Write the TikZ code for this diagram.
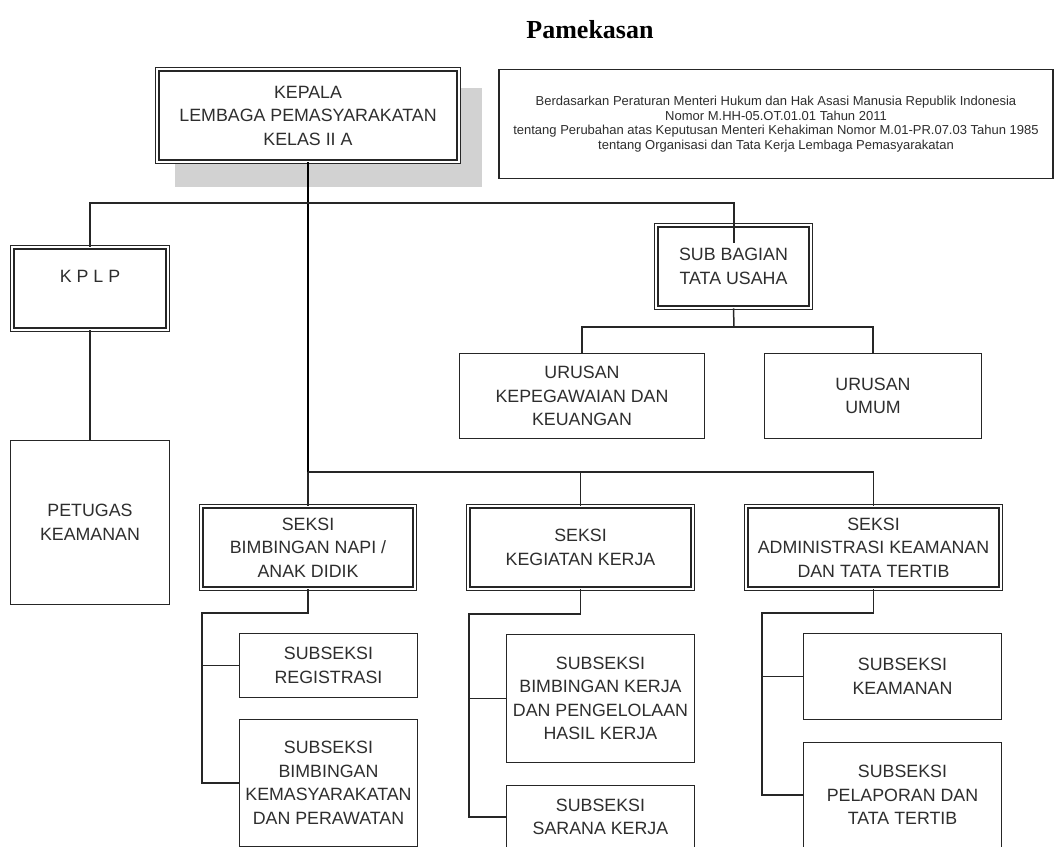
\documentclass[tikz,border=0pt]{standalone}
\usepackage{fontspec}
\setmainfont{Liberation Sans}
\newfontfamily\titlefont{Liberation Serif}
\definecolor{linegray}{HTML}{262626}
\definecolor{textgray}{HTML}{2E2E2E}
\definecolor{shadowgray}{HTML}{D2D2D2}
\begin{document}
\begin{tikzpicture}[x=1pt,y=-1pt,
  box/.style={draw=linegray, line width=1.2pt, fill=white, align=center, text=textgray,
    font=\fontsize{17.8}{23.5}\selectfont, inner sep=0pt},
  dbox/.style={box, double=white, double distance=2.2pt},
  line/.style={draw=linegray, line width=1.5pt},
  trunk/.style={draw=black, line width=1.9pt}]

\useasboundingbox (0,0) rectangle (1057,846);
  \node[font={\titlefont\fontsize{26}{30}\selectfont\bfseries}] (t) at (590,30) {Pamekasan};
  \fill[shadowgray] (175,88) rectangle (482,187);
  \node[dbox, minimum width=301.4, minimum height=92.4] (n1) at (308,115.5)
    {KEPALA\\LEMBAGA PEMASYARAKATAN\\KELAS II A};
  \node[box, font=\fontsize{13}{14.7}\selectfont, minimum width=554, minimum height=109] (d) at (776,124)
    {Berdasarkan Peraturan Menteri Hukum dan Hak Asasi Manusia Republik Indonesia\\
     Nomor M.HH-05.OT.01.01 Tahun 2011\\
     tentang Perubahan atas Keputusan Menteri Kehakiman Nomor M.01-PR.07.03 Tahun 1985\\
     tentang Organisasi dan Tata Kerja Lembaga Pemasyarakatan};
  \node[dbox, minimum width=155.4, minimum height=82.4, text depth=25pt] (n21) at (90,288.5) {K P L P};
  \node[dbox, minimum width=154.4, minimum height=82.4] (n22) at (733.5,266.5) {SUB BAGIAN\\TATA USAHA};
  \node[box, minimum width=159, minimum height=164] (n31) at (90,522.5) {PETUGAS\\KEAMANAN};
  \node[box, minimum width=245, minimum height=85] (n32) at (582,396) {URUSAN\\KEPEGAWAIAN DAN\\KEUANGAN};
  \node[box, minimum width=217, minimum height=85] (n33) at (873,396) {URUSAN\\UMUM};
  \node[dbox, minimum width=213.4, minimum height=82.4] (n41) at (308,547.5) {SEKSI\\BIMBINGAN NAPI /\\ANAK DIDIK};
  \node[dbox, minimum width=224.4, minimum height=82.4] (n42) at (580.5,547.5) {SEKSI\\KEGIATAN KERJA};
  \node[dbox, minimum width=254.4, minimum height=82.4] (n43) at (873.5,547.5) {SEKSI\\ADMINISTRASI KEAMANAN\\DAN TATA TERTIB};
  \node[box, minimum width=178, minimum height=64] (n51) at (328.5,665.5) {SUBSEKSI\\REGISTRASI};
  \node[box, minimum width=178, minimum height=127] (n52) at (328.5,783) {SUBSEKSI\\BIMBINGAN\\KEMASYARAKATAN\\DAN PERAWATAN};
  \node[box, minimum width=188, minimum height=128] (n53) at (600.5,698.5) {SUBSEKSI\\BIMBINGAN KERJA\\DAN PENGELOLAAN\\HASIL KERJA};
  \node[box, minimum width=188, minimum height=63] (n54) at (600.5,817) {SUBSEKSI\\SARANA KERJA};
  \node[box, minimum width=198, minimum height=86] (n55) at (902.5,676.5) {SUBSEKSI\\KEAMANAN};
  \node[box, minimum width=198, minimum height=105] (n56) at (902.5,795) {SUBSEKSI\\PELAPORAN DAN\\TATA TERTIB};
  \coordinate (j1) at (308,203);
  \coordinate (j2) at (308,472);
  \coordinate (j3) at (734,327);
  \coordinate (j4) at (202,613);
  \coordinate (j5) at (469,614);
  \coordinate (j6) at (762,613);
  \coordinate (c1) at (734,243);
  \draw[trunk] (n1.south) -- (j2);
  \draw[line] (n21.north) |- (j1) -| (c1);
  \draw[line] (n21) -- (n31);
  \draw[line] (n22.south) -- (j3);
  \draw[line] (n32.north) |- (j3) -| (n33.north);
  \draw[line] (j2) -| (n43.north);
  \draw[line] (j2) -- (n41.north);
  \draw[line] (n42.north) -- (n42.north |- j2);
  \draw[line] (n41.south) |- (j4) |- (n52.west);
  \draw[line] (j4) |- (n51.west);
  \draw[line] (n42.south) |- (j5) |- (n54.west);
  \draw[line] (j5) |- (n53.west);
  \draw[line] (n43.south) |- (j6) |- (n56.west);
  \draw[line] (j6) |- (n55.west);
 \end{tikzpicture}
\end{document}
